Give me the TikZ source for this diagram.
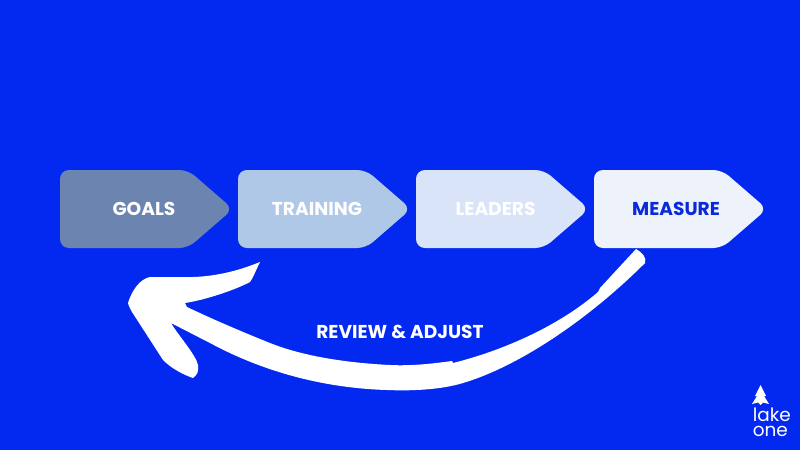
\documentclass[tikz,border=0pt]{standalone}
\usepackage{fontspec}
\setmainfont{Poppins}
\definecolor{bgblue}{HTML}{0329F0}
\definecolor{goalsfill}{HTML}{6C84B0}
\definecolor{trainingfill}{HTML}{B0C8E8}
\definecolor{leadersfill}{HTML}{D9E4F8}
\definecolor{measurefill}{HTML}{EEF2FB}
\definecolor{measuretext}{HTML}{0A28DC}
\tikzset{
  steplabel/.style={font=\fontsize{10.6}{12}\selectfont\bfseries,text=white,inner sep=0pt},
  stepshape/.style={rounded corners=5pt},
}
\begin{document}
\begin{tikzpicture}[x=0.02cm,y=-0.02cm]
\fill[bgblue] (0,0) rectangle (800,450);
\useasboundingbox (0,0) rectangle (800,450);
\fill[stepshape,goalsfill] (60,170)--(188,170)--(233,209)--(188,248)--(60,248)--cycle;
\fill[stepshape,trainingfill] (238,170)--(366,170)--(411,209)--(366,248)--(238,248)--cycle;
\fill[stepshape,leadersfill] (416,170)--(544,170)--(589,209)--(544,248)--(416,248)--cycle;
\fill[stepshape,measurefill] (594,170)--(722,170)--(767,209)--(722,248)--(594,248)--cycle;
\node[steplabel] (goals) at (144,208.5) {GOALS};
\node[steplabel] (training) at (317,208.5) {TRAINING};
\node[steplabel] (leaders) at (495.5,208.5) {LEADERS};
\node[steplabel,text=measuretext] (measure) at (676,208.5) {MEASURE};
\node[steplabel] (review) at (400,332) {REVIEW \& ADJUST};
\fill[white] (260,262)
  .. controls (250,266) and (225,276) .. (193,277)
  -- (150,277)
  .. controls (140,279) and (132,290) .. (128,303)
  .. controls (129,307) and (131,310) .. (132,312)
  -- (163,360)
  .. controls (172,369) and (184,375) .. (193,378)
  .. controls (197,375) and (199,372) .. (198,365)
  .. controls (196,355) and (178,335) .. (171,323)
  -- (210,343)
  .. controls (260,370) and (320,388) .. (387,390)
  .. controls (410,391) and (440,390) .. (463,383)
  .. controls (520,366) and (590,318) .. (645,263)
  .. controls (647,258) and (642,252) .. (636,249)
  -- (600,288) -- (598,292)
  .. controls (560,325) and (505,350) .. (453,363)
  -- (452,361)
  .. controls (430,364) and (410,366) .. (390,365)
  .. controls (350,363) and (305,357) .. (270,343)
  .. controls (240,331) and (210,318) .. (187,307)
  -- (185,303)
  .. controls (205,300) and (235,290) .. (250,282)
  .. controls (253,278) and (256,270) .. (260,262)
  -- cycle;
\fill[white] (760.5,385)--(766,396)--(764,396)--(769,404)--(763,402.5)--(760.5,405)--(758,402.5)--(752,404)--(757,396)--(755,396)--cycle;
\node[font=\fontsize{10.5}{8.6}\selectfont,text=white,inner sep=0pt,align=left,anchor=north west] (logo) at (752.5,407) {lake\\one};
\end{tikzpicture}
\end{document}
